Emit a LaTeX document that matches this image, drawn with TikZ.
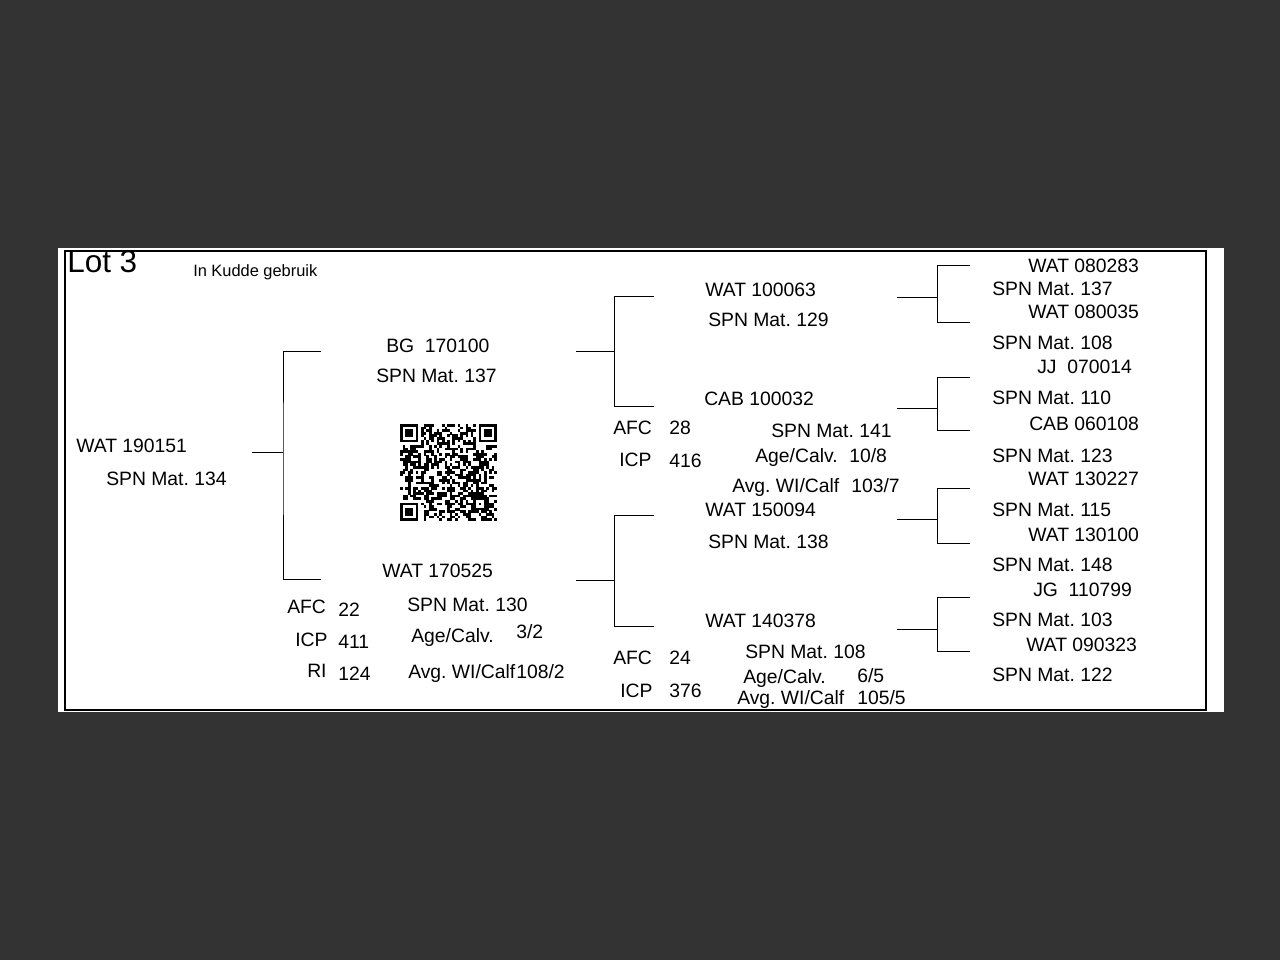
\documentclass[tikz,border=0pt]{standalone}
\usepackage{fontspec}
\setmainfont{Liberation Sans}
\frenchspacing
\definecolor{bgGrey}{HTML}{333333}
\tikzset{
  lbl/.style       = {anchor=base west, inner sep=0pt, font=\fontsize{14.5}{17}\selectfont},
  title/.style     = {lbl, font=\fontsize{23.6}{26}\selectfont},
  note/.style      = {lbl, font=\fontsize{12.3}{14}\selectfont},
  frameline/.style = {line width=1.1pt, black},
  bline/.style     = {line width=0.7pt, black},
}
% bracket: name, x stub, x joint, x end, y top, y mid, y bottom
\newcommand{\pedbr}[7]{%
  \coordinate (#1-s) at (#2,#6); \coordinate (#1-j) at (#3,#6);
  \coordinate (#1-t) at (#4,#5); \coordinate (#1-b) at (#4,#7);
  \draw[bline] (#1-s) -- (#1-j) (#1-t) -| (#1-j) |- (#1-b);}

\begin{document}
\begin{tikzpicture}[x=0.75pt, y=-0.75pt]
  \useasboundingbox (0,0) rectangle (1280,960);
  \fill[bgGrey] (0,0) rectangle (1280,960);
  \fill[white] (58,248) rectangle (1224,712);
  \draw[frameline] (65,251) rectangle (1206,710);

  \node[title] (lot)   at (67,272)  {Lot 3};
  \node[note]  (kudde) at (193,276) {In Kudde gebruik};

  % animal
  \node[lbl] (a)  at (76,452)  {WAT 190151};
  \node[lbl] (am) at (106,485) {SPN Mat. 134};

  % parents
  \node[lbl] (s)  at (386,352) {BG~~170100};
  \node[lbl] (sm) at (376,382) {SPN Mat. 137};
  \node[lbl] (d)  at (382,577) {WAT 170525};
  \node[lbl] (dm) at (407,611) {SPN Mat. 130};
  \node[lbl] (dafc)  at (287,613) {AFC}; \node[lbl] (dafcv) at (338,616) {22};
  \node[lbl] (dicp)  at (295,646) {ICP}; \node[lbl] (dicpv) at (338,648) {411};
  \node[lbl] (dri)   at (307,677) {RI};  \node[lbl] (driv)  at (338,680) {124};
  \node[lbl] (dage)  at (411,642) {Age/Calv.};    \node[lbl] (dagev) at (516,638) {3/2};
  \node[lbl] (dwi)   at (408,678) {Avg. WI/Calf}; \node[lbl] (dwiv)  at (516,678) {108/2};

  % grandparents
  \node[lbl] (ss)  at (705,296) {WAT 100063};
  \node[lbl] (ssm) at (708,326) {SPN Mat. 129};
  \node[lbl] (sd)  at (704,405) {CAB 100032};
  \node[lbl] (sdafc) at (613,434) {AFC}; \node[lbl] (sdafcv) at (669,434) {28};
  \node[lbl] (sdicp) at (619,466) {ICP}; \node[lbl] (sdicpv) at (669,467) {416};
  \node[lbl] (sdm)   at (771,437) {SPN Mat. 141};
  \node[lbl] (sdage) at (755,462) {Age/Calv.};    \node[lbl] (sdagev) at (849,462) {10/8};
  \node[lbl] (sdwi)  at (732,492) {Avg. WI/Calf}; \node[lbl] (sdwiv)  at (851,492) {103/7};
  \node[lbl] (ds)  at (705,516) {WAT 150094};
  \node[lbl] (dsm) at (708,548) {SPN Mat. 138};
  \node[lbl] (dd)  at (705,627) {WAT 140378};
  \node[lbl] (ddafc) at (613,664) {AFC}; \node[lbl] (ddafcv) at (669,664) {24};
  \node[lbl] (ddicp) at (620,697) {ICP}; \node[lbl] (ddicpv) at (669,697) {376};
  \node[lbl] (ddm)   at (745,658) {SPN Mat. 108};
  \node[lbl] (ddage) at (743,683) {Age/Calv.};    \node[lbl] (ddagev) at (857,682) {6/5};
  \node[lbl] (ddwi)  at (737,704) {Avg. WI/Calf}; \node[lbl] (ddwiv)  at (857,704) {105/5};

  % great-grandparents
  \node[lbl] (sss)  at (1028,272) {WAT 080283};
  \node[lbl] (sssm) at (992,295)  {SPN Mat. 137};
  \node[lbl] (ssd)  at (1028,318) {WAT 080035};
  \node[lbl] (ssdm) at (992,349)  {SPN Mat. 108};
  \node[lbl] (sds)  at (1037,373) {JJ~~070014};
  \node[lbl] (sdsm) at (992,404)  {SPN Mat. 110};
  \node[lbl] (sdd)  at (1029,430) {CAB 060108};
  \node[lbl] (sddm) at (992,462)  {SPN Mat. 123};
  \node[lbl] (dss)  at (1028,485) {WAT 130227};
  \node[lbl] (dssm) at (992,516)  {SPN Mat. 115};
  \node[lbl] (dsd)  at (1028,541) {WAT 130100};
  \node[lbl] (dsdm) at (992,571)  {SPN Mat. 148};
  \node[lbl] (dds)  at (1033,596) {JG~~110799};
  \node[lbl] (ddsm) at (992,626)  {SPN Mat. 103};
  \node[lbl] (ddd)  at (1026,651) {WAT 090323};
  \node[lbl] (dddm) at (992,681)  {SPN Mat. 122};

  % brackets
  \pedbr{b0}{252}{283}{321}{351}{452}{579}
  \pedbr{b1}{576}{614}{654}{296}{351}{406}
  \pedbr{b2}{576}{614}{654}{515}{580}{626}
  \pedbr{b3}{897}{937}{970}{265}{297}{322}
  \pedbr{b4}{897}{937}{970}{377}{408}{430}
  \pedbr{b5}{897}{937}{970}{488}{519}{543}
  \pedbr{b6}{897}{937}{970}{597}{629}{651}

  % qr code
  \begin{scope}[shift={(400,424)}, x=1.965pt, y=-1.965pt]
    \pgfmathsetseed{31}
    \foreach \i in {0,...,36} {\foreach \j in {0,...,36} {
      \pgfmathrandominteger{\qr}{0}{1}
      \pgfmathtruncatemacro{\qfree}{!(((\i<8)&&(\j<8)) || ((\i>28)&&(\j<8)) || ((\i<8)&&(\j>28))
        || ((\i>27)&&(\i<33)&&(\j>27)&&(\j<33)) || (\i==6) || (\j==6))}
      \ifnum\qr=1 \ifnum\qfree=1 \fill (\i,\j) rectangle ++(1.03,1.03); \fi\fi
    }}
    \foreach \k in {8,10,...,28} {\fill (\k,6) rectangle ++(1.03,1.03);
      \fill (6,\k) rectangle ++(1.03,1.03);}
    \foreach \p/\q in {0/0, 30/0, 0/30} {
      \fill (\p,\q) rectangle ++(7,7);
      \fill[white] (\p+1,\q+1) rectangle ++(5,5);
      \fill (\p+2,\q+2) rectangle ++(3,3);}
    \fill (28,28) rectangle ++(5,5);
    \fill[white] (29,29) rectangle ++(3,3);
    \fill (30,30) rectangle ++(1,1);
  \end{scope}
\end{tikzpicture}
\end{document}
